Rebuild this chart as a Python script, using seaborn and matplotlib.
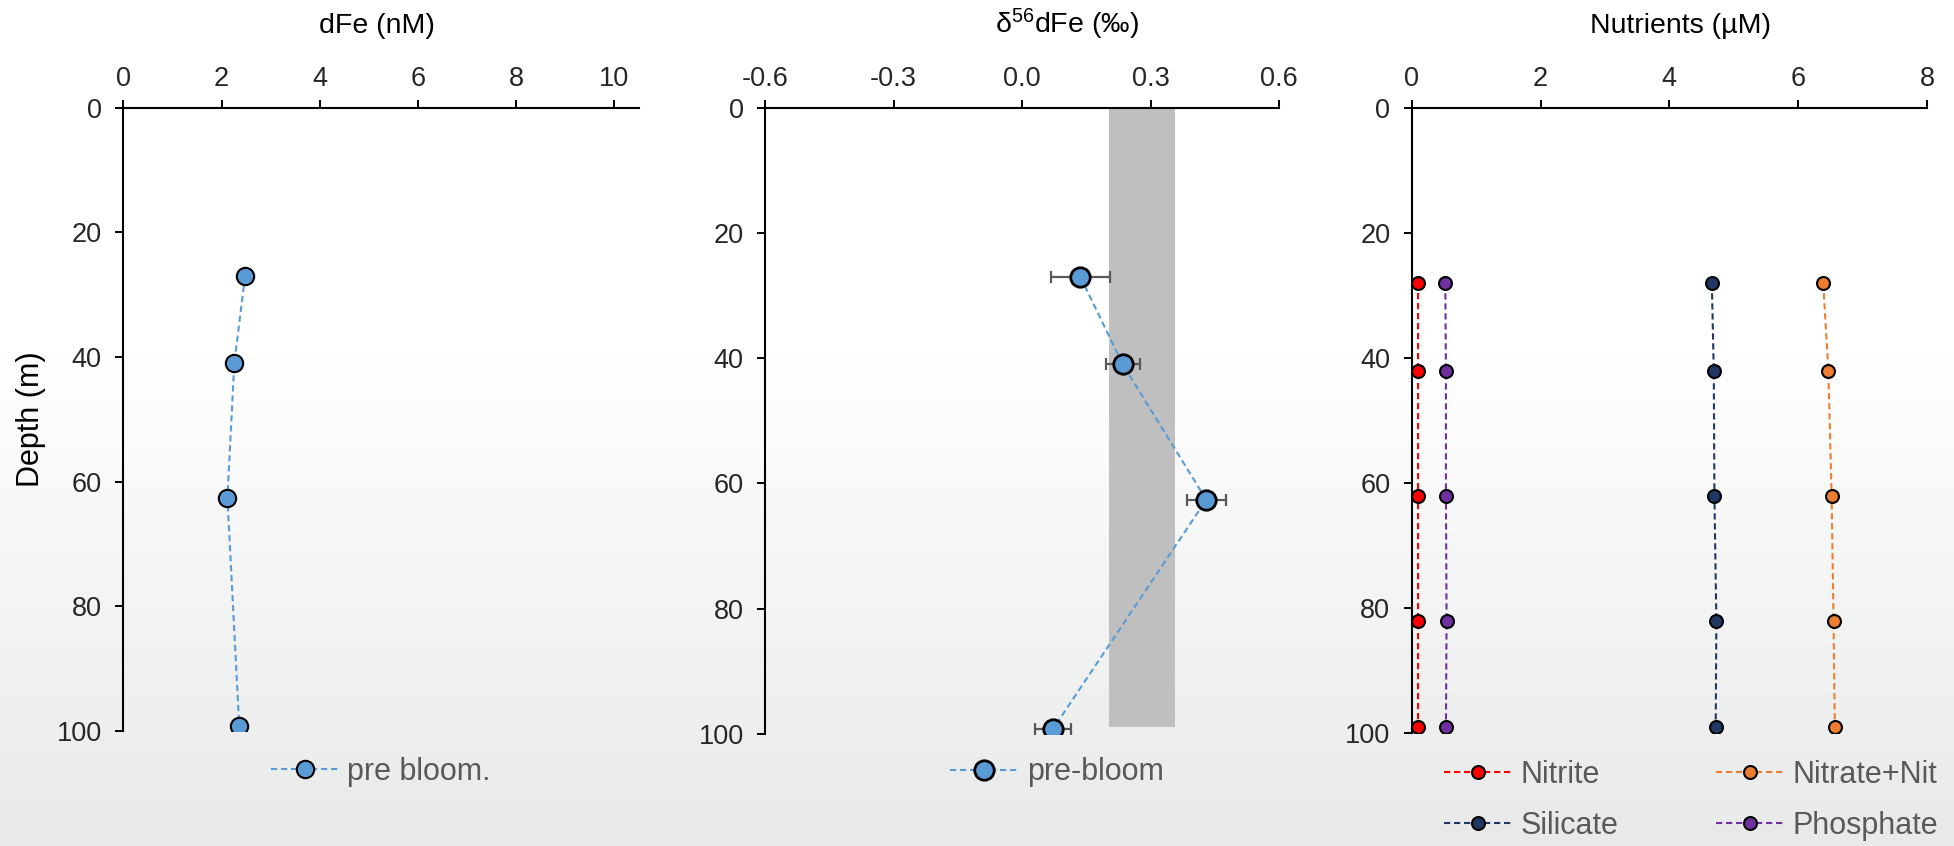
import numpy as np
import matplotlib
matplotlib.use("Agg")
import matplotlib.pyplot as plt
import seaborn as sns

sns.set_theme(style="white")
plt.rcParams["font.family"] = ["Liberation Sans", "DejaVu Sans"]
plt.rcParams["mathtext.fontset"] = "custom"
plt.rcParams["mathtext.rm"] = "Liberation Sans"
plt.rcParams["mathtext.it"] = "Liberation Sans:italic"

# ---- data -------------------------------------------------------------
fe_depth = [27, 41, 62.6, 99.2]
dfe = [2.48, 2.26, 2.12, 2.36]
d56fe = [0.136, 0.235, 0.430, 0.072]
d56fe_err = [0.068, 0.040, 0.046, 0.042]
band_x = [0.203, 0.357]
band_bottom = 98.9

nut_depth = [28, 42, 62, 82, 99]
nitrite = [0.09, 0.09, 0.09, 0.09, 0.09]
nitrate_nitrite = [6.39, 6.47, 6.52, 6.55, 6.57]
silicate = [4.66, 4.69, 4.70, 4.73, 4.72]
phosphate = [0.52, 0.53, 0.53, 0.54, 0.53]

depth_ticks = [0, 20, 40, 60, 80, 100]
fe_ticks = [0, 2, 4, 6, 8, 10]
d56_ticks = [-0.6, -0.3, 0.0, 0.3, 0.6]
nut_ticks = [0, 2, 4, 6, 8]

W, H = 1954, 846
fig = plt.figure(figsize=(W / 100, H / 100), dpi=100)

# soft vertical background shading
bg = fig.add_axes([0, 0, 1, 1], zorder=-10)
yy = np.linspace(0, 1, 400)
t = np.clip((yy - 0.42) / 0.58, 0, 1)
top = np.array([1.0, 1.0, 1.0])
bot = np.array([0.910, 0.914, 0.914])
grad = top[None, :] * (1 - t[:, None]) + bot[None, :] * t[:, None]
bg.imshow(grad[:, None, :], aspect="auto", extent=[0, 1, 1, 0])
bg.set_axis_off()

TICK_FS = 19.5
TITLE_FS = 20.5
LEG_FS = 22
TXT_GRAY = "#595959"
DASH = (0, (3, 1.8))


def frame(rect, xlim, xticks, xfmt):
    ax = fig.add_axes(rect)
    ax.set_facecolor("none")
    ax.set_ylim(100, 0)
    ax.set_xlim(*xlim)
    ax.set_yticks(depth_ticks)
    ax.set_xticks(xticks)
    ax.set_xticklabels([xfmt(v) for v in xticks])
    ax.xaxis.tick_top()
    for s in ("right", "bottom"):
        ax.spines[s].set_visible(False)
    for s in ("top", "left"):
        ax.spines[s].set_color("black")
        ax.spines[s].set_linewidth(1.5)
    ax.tick_params(axis="x", which="major", direction="out", length=5.5, width=1.4,
                   color="black", labelsize=TICK_FS, pad=6, top=True, bottom=False)
    ax.tick_params(axis="y", which="major", direction="out", length=5.5, width=1.4,
                   color="black", labelsize=TICK_FS, pad=10, left=True)
    return ax


def finish(ax):
    ax.set_xlabel("")
    ax.set_ylabel("")


def title(ax, frac, text):
    p = ax.get_position()
    fig.text(p.x0 + frac * p.width, 1 - 33 / H, text, ha="center", va="baseline",
             fontsize=TITLE_FS, color="black")


def rect(x0, x1, y0, y1):
    return [x0 / W, 1 - y1 / H, (x1 - x0) / W, (y1 - y0) / H]


# ---- panel 1: dFe ----------------------------------------------------
ax1 = frame(rect(123.3, 638.5, 107.7, 731), (0, 10.49), fe_ticks,
            lambda v: f"{v:g}")
sns.lineplot(x=dfe, y=fe_depth, sort=False, estimator=None, ax=ax1,
             color="#5B9BD5", linestyle=DASH, linewidth=1.5,
             marker="o", markersize=12.5, markerfacecolor="#5B9BD5",
             markeredgecolor="black", markeredgewidth=1.5, label="pre bloom.")
finish(ax1)
title(ax1, 0.492, "dFe (nM)")
ax1.legend(loc="center", bbox_to_anchor=(0.5, -0.066), frameon=False,
           fontsize=LEG_FS, labelcolor=TXT_GRAY, handlelength=2.2,
           handletextpad=0.3, borderpad=0)
fig.text(31 / W, 1 - 419 / H, "Depth (m)", rotation=90, ha="center", va="center",
         fontsize=22, color="black")

# ---- panel 2: d56Fe ----------------------------------------------------
ax2 = frame(rect(765.2, 1279.1, 107.7, 734), (-0.6, 0.6), d56_ticks,
            lambda v: f"{v:.1f}")
ax2.fill_betweenx([0, band_bottom], band_x[0], band_x[1], color="#BFBFBF",
                  linewidth=0, zorder=1)
ax2.errorbar(d56fe, fe_depth, xerr=d56fe_err, fmt="none", ecolor=TXT_GRAY,
             elinewidth=1.6, capsize=4.5, capthick=1.6, zorder=2)
sns.lineplot(x=d56fe, y=fe_depth, sort=False, estimator=None, ax=ax2,
             color="#5B9BD5", linestyle=DASH, linewidth=1.5,
             marker="o", markersize=14, markerfacecolor="#5B9BD5",
             markeredgecolor="black", markeredgewidth=2.0, label="pre-bloom",
             zorder=3)
finish(ax2)
title(ax2, 0.588, r"δ$^{\mathrm{56}}$dFe (‰)")
ax2.legend(loc="center", bbox_to_anchor=(0.568, -0.061), frameon=False,
           fontsize=LEG_FS, labelcolor=TXT_GRAY, handlelength=2.2,
           handletextpad=0.3, borderpad=0)

# ---- panel 3: nutrients -----------------------------------------------
ax3 = frame(rect(1411.8, 1926.9, 108.3, 733.3), (0, 8), nut_ticks,
            lambda v: f"{v:g}")
series = [
    ("Nitrite", nitrite, "#FF0000"),
    ("Silicate", silicate, "#1F3864"),
    ("Nitrate+Nit", nitrate_nitrite, "#ED7D31"),
    ("Phosphate", phosphate, "#7030A0"),
]
for name, vals, col in series:
    sns.lineplot(x=vals, y=nut_depth, sort=False, estimator=None, ax=ax3,
                 color=col, linestyle=DASH, linewidth=1.5,
                 marker="o", markersize=9.3, markerfacecolor=col,
                 markeredgecolor="black", markeredgewidth=1.5, label=name)
finish(ax3)
title(ax3, 0.521, "Nutrients (µM)")
ax3.legend(loc="center", bbox_to_anchor=(0.542, -0.107), frameon=False, ncol=2,
           fontsize=LEG_FS, labelcolor=TXT_GRAY, handlelength=2.2,
           handletextpad=0.3, borderpad=0, columnspacing=3.2, labelspacing=0.68)

fig.savefig("out.png", dpi=100)
